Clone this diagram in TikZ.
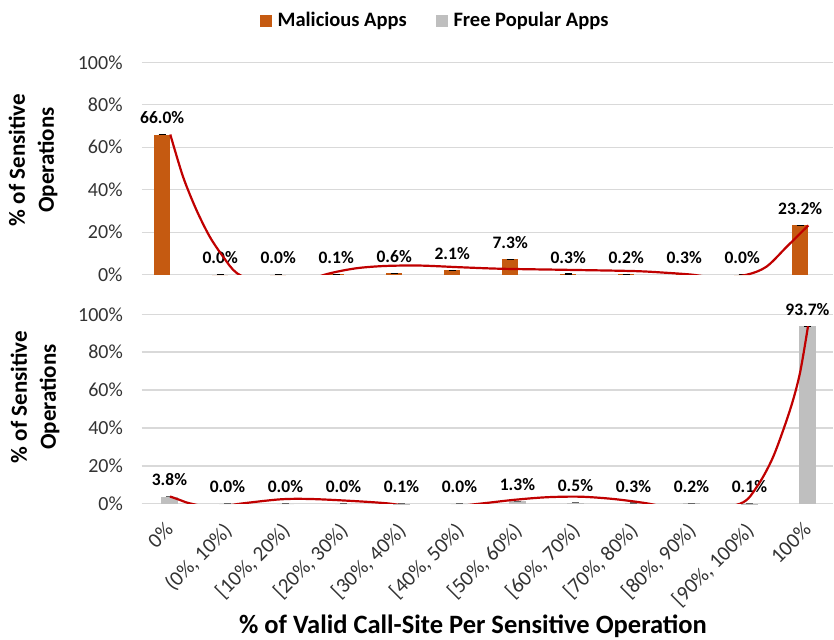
\documentclass[tikz,border=0pt]{standalone}
\usepackage{fontspec}
\setmainfont{Carlito}
\usetikzlibrary{positioning}
\definecolor{malorange}{HTML}{C55A11}
\definecolor{freegray}{HTML}{BFBFBF}
\definecolor{gridgray}{HTML}{D9D9D9}
\definecolor{trendred}{HTML}{C00000}

\tikzset{
  gridline/.style={draw=gridgray, line width=1.4pt},
  malbar/.style={fill=malorange},
  freebar/.style={fill=freegray},
  errcap/.style={draw=black, line width=1.3pt},
  vlab/.style={pos=0.5, anchor=base, yshift=11pt, inner sep=0pt, font=\bfseries\fontsize{17.5}{20}\selectfont},
  ticklab/.style={anchor=east, inner sep=0pt, text=black!80, font=\fontsize{20}{22}\selectfont},
  catlab/.style={anchor=north east, rotate=45, inner sep=0pt, text=black!80, font=\fontsize{21}{23}\selectfont},
  axtitle/.style={font=\bfseries\fontsize{23}{29}\selectfont, align=center, inner sep=0pt},
  trend/.style={draw=trendred, line width=2.2pt},
  legbox/.style={minimum size=11.5pt, inner sep=0pt},
  legtext/.style={font=\bfseries\fontsize{20.5}{24}\selectfont, inner sep=0pt}
}

\begin{document}
\begin{tikzpicture}[x=1pt,y=1pt]
  \useasboundingbox (0,0) rectangle (834,639);

  % legend
  \node[legbox, fill=malorange] (lgm) at (266,618) {};
  \node[legtext, right=5.5pt of lgm] (lgmt) {Malicious Apps};
  \node[legbox, fill=freegray, right=29pt of lgmt] (lgf) {};
  \node[legtext, right=5.5pt of lgf] (lgft) {Free Popular Apps};

  % axis titles
  \node[axtitle, rotate=90] (ytop) at (33,479) {\% of Sensitive\\Operations};
  \node[axtitle, rotate=90] (ybot) at (35,242) {\% of Sensitive\\Operations};
  \node[axtitle, font=\bfseries\fontsize{26.5}{30}\selectfont] (xtitle) at (473,13) {\% of Valid Call-Site Per Sensitive Operation};

  % upper panel: malicious apps
  \begin{scope}[shift={(170.3pt,364.3pt)}, x=58pt, y=2.124pt]
    \draw[gridline] (-0.49,0) -- (11.43,0);
    \draw[gridline] (-0.49,20) -- (11.43,20);
    \draw[gridline] (-0.49,40) -- (11.43,40);
    \draw[gridline] (-0.49,60) -- (11.43,60);
    \draw[gridline] (-0.49,80) -- (11.43,80);
    \draw[gridline] (-0.49,100) -- (11.43,100);
    \node[ticklab] (t0) at (-0.82,0) {0\%};
    \node[ticklab] (t20) at (-0.82,20) {20\%};
    \node[ticklab] (t40) at (-0.82,40) {40\%};
    \node[ticklab] (t60) at (-0.82,60) {60\%};
    \node[ticklab] (t80) at (-0.82,80) {80\%};
    \node[ticklab] (t100) at (-0.82,100) {100\%};

    \fill[malbar] (-0.28,0) rectangle (0,66.0);
    \fill[malbar] (0.72,0) rectangle (1,0.0);
    \fill[malbar] (1.72,0) rectangle (2,0.0);
    \fill[malbar] (2.72,0) rectangle (3,0.1);
    \fill[malbar] (3.72,0) rectangle (4,0.6);
    \fill[malbar] (4.72,0) rectangle (5,2.1);
    \fill[malbar] (5.72,0) rectangle (6,7.3);
    \fill[malbar] (6.72,0) rectangle (7,0.3);
    \fill[malbar] (7.72,0) rectangle (8,0.2);
    \fill[malbar] (8.72,0) rectangle (9,0.3);
    \fill[malbar] (9.72,0) rectangle (10,0.0);
    \fill[malbar] (10.72,0) rectangle (11,23.2);

    \draw[errcap] (-0.20,66.0) -- (-0.08,66.0) node[vlab] (m0) {66.0\%};
    \draw[errcap] (0.80,0.0) -- (0.92,0.0) node[vlab] (m1) {0.0\%};
    \draw[errcap] (1.80,0.0) -- (1.92,0.0) node[vlab] (m2) {0.0\%};
    \draw[errcap] (2.80,0.1) -- (2.92,0.1) node[vlab] (m3) {0.1\%};
    \draw[errcap] (3.80,0.6) -- (3.92,0.6) node[vlab] (m4) {0.6\%};
    \draw[errcap] (4.80,2.1) -- (4.92,2.1) node[vlab] (m5) {2.1\%};
    \draw[errcap] (5.80,7.3) -- (5.92,7.3) node[vlab] (m6) {7.3\%};
    \draw[errcap] (6.80,0.3) -- (6.92,0.3) node[vlab] (m7) {0.3\%};
    \draw[errcap] (7.80,0.2) -- (7.92,0.2) node[vlab] (m8) {0.2\%};
    \draw[errcap] (8.80,0.3) -- (8.92,0.3) node[vlab] (m9) {0.3\%};
    \draw[errcap] (9.80,0.0) -- (9.92,0.0) node[vlab] (m10) {0.0\%};
    \draw[errcap] (10.80,23.2) -- (10.92,23.2) node[vlab] (m11) {23.2\%};

    \begin{scope}
      \clip (-0.49,0) rectangle (11.43,100);
      \draw[trend] plot[smooth] coordinates {(0,66.0) (0.22,46.1) (0.45,30.5) (0.68,17.9) (0.91,8.5) (1.15,0.7) (1.6,-4.5) (2.15,-4.5) (2.7,0.3) (3.2,3.0) (3.7,4.1) (4.3,4.3) (5.0,3.5) (5.7,2.8) (6.8,2.3) (8.0,1.7) (8.55,0.9) (9.0,0) (9.45,-1.5) (9.94,0) (10.28,3.8) (10.63,13.2) (11,23.2)};
    \end{scope}
  \end{scope}

  % lower panel: free popular apps
  \begin{scope}[shift={(170pt,135.3pt)}, x=58pt, y=1.894pt]
    \draw[gridline] (-0.49,0) -- (11.43,0);
    \draw[gridline] (-0.49,20) -- (11.43,20);
    \draw[gridline] (-0.49,40) -- (11.43,40);
    \draw[gridline] (-0.49,60) -- (11.43,60);
    \draw[gridline] (-0.49,80) -- (11.43,80);
    \draw[gridline] (-0.49,100) -- (11.43,100);
    \node[ticklab] (b0) at (-0.81,0) {0\%};
    \node[ticklab] (b20) at (-0.81,20) {20\%};
    \node[ticklab] (b40) at (-0.81,40) {40\%};
    \node[ticklab] (b60) at (-0.81,60) {60\%};
    \node[ticklab] (b80) at (-0.81,80) {80\%};
    \node[ticklab] (b100) at (-0.81,100) {100\%};

    \fill[freebar] (-0.15,0) rectangle (0.13,3.8);
    \fill[freebar] (0.85,0) rectangle (1.13,0.0);
    \fill[freebar] (1.85,0) rectangle (2.13,0.0);
    \fill[freebar] (2.85,0) rectangle (3.13,0.0);
    \fill[freebar] (3.85,0) rectangle (4.13,0.1);
    \fill[freebar] (4.85,0) rectangle (5.13,0.0);
    \fill[freebar] (5.85,0) rectangle (6.13,1.3);
    \fill[freebar] (6.85,0) rectangle (7.13,0.5);
    \fill[freebar] (7.85,0) rectangle (8.13,0.3);
    \fill[freebar] (8.85,0) rectangle (9.13,0.2);
    \fill[freebar] (9.85,0) rectangle (10.13,0.1);
    \fill[freebar] (10.85,0) rectangle (11.13,93.7);

    \draw[errcap, draw=black!60] (-0.07,3.8) -- (0.05,3.8) node[vlab] (f0) {3.8\%};
    \draw[errcap, draw=black!60] (0.93,0.0) -- (1.05,0.0) node[vlab] (f1) {0.0\%};
    \draw[errcap, draw=black!60] (1.93,0.0) -- (2.05,0.0) node[vlab] (f2) {0.0\%};
    \draw[errcap, draw=black!60] (2.93,0.0) -- (3.05,0.0) node[vlab] (f3) {0.0\%};
    \draw[errcap, draw=black!60] (3.93,0.1) -- (4.05,0.1) node[vlab] (f4) {0.1\%};
    \draw[errcap, draw=black!60] (4.93,0.0) -- (5.05,0.0) node[vlab] (f5) {0.0\%};
    \draw[errcap, draw=black!60] (5.93,1.3) -- (6.05,1.3) node[vlab] (f6) {1.3\%};
    \draw[errcap, draw=black!60] (6.93,0.5) -- (7.05,0.5) node[vlab] (f7) {0.5\%};
    \draw[errcap, draw=black!60] (7.93,0.3) -- (8.05,0.3) node[vlab] (f8) {0.3\%};
    \draw[errcap, draw=black!60] (8.93,0.2) -- (9.05,0.2) node[vlab] (f9) {0.2\%};
    \draw[errcap, draw=black!60] (9.93,0.1) -- (10.05,0.1) node[vlab] (f10) {0.1\%};
    \draw[errcap] (10.93,93.7) -- (11.05,93.7) node[vlab] (f11) {93.7\%};

    \node[catlab] (c0) at (-0.1,-9.1) {0\%};
    \node[catlab] (c1) at (0.9,-9.1) {(0\%, 10\%)};
    \node[catlab] (c2) at (1.9,-9.1) {[10\%, 20\%)};
    \node[catlab] (c3) at (2.9,-9.1) {[20\%, 30\%)};
    \node[catlab] (c4) at (3.9,-9.1) {[30\%, 40\%)};
    \node[catlab] (c5) at (4.9,-9.1) {[40\%, 50\%)};
    \node[catlab] (c6) at (5.9,-9.1) {[50\%, 60\%)};
    \node[catlab] (c7) at (6.9,-9.1) {[60\%, 70\%)};
    \node[catlab] (c8) at (7.9,-9.1) {[70\%, 80\%)};
    \node[catlab] (c9) at (8.9,-9.1) {[80\%, 90\%)};
    \node[catlab] (c10) at (9.9,-9.1) {[90\%, 100\%)};
    \node[catlab] (c11) at (10.9,-9.1) {100\%};

    \begin{scope}
      \clip (-0.49,0) rectangle (11.43,100);
      \draw[trend] plot[smooth] coordinates {(0,3.8) (0.15,2.2) (0.34,0.2) (0.75,-2) (1.21,0) (1.9,2.3) (2.4,2.5) (3.05,1.6) (3.74,0.2) (4.5,-2.5) (5.34,0) (5.92,2) (6.49,3.4) (7.07,3.7) (7.64,2.5) (8.22,0.2) (9.0,-4) (9.83,0) (10.12,9) (10.4,24.8) (10.69,49.5) (10.86,68.8) (11,93.7)};
    \end{scope}
  \end{scope}
\end{tikzpicture}
\end{document}
